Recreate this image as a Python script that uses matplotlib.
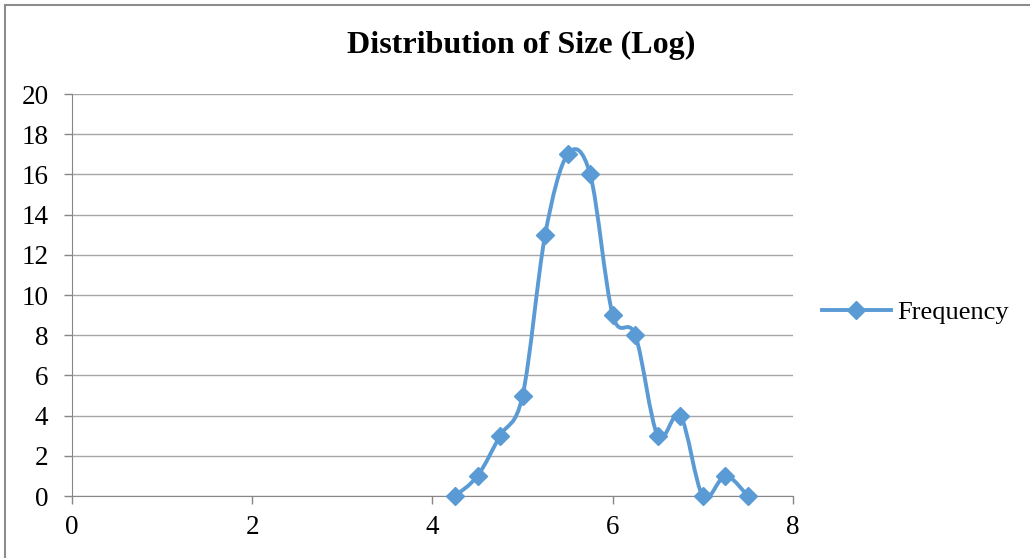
import matplotlib.pyplot as plt
import numpy as np
from matplotlib.path import Path
from matplotlib.patches import PathPatch, Rectangle
from matplotlib.lines import Line2D

plt.rcParams['font.family'] = ['Liberation Serif', 'DejaVu Serif']

size_log = [4.25, 4.5, 4.75, 5.0, 5.25, 5.5, 5.75, 6.0, 6.25, 6.5, 6.75, 7.0, 7.25, 7.5]
frequency = [0, 1, 3, 5, 13, 17, 16, 9, 8, 3, 4, 0, 1, 0]
xticks = [0, 2, 4, 6, 8]
yticks = list(range(0, 21, 2))

blue = '#5B9BD5'

fig = plt.figure(figsize=(10.3, 5.58), dpi=100)
# chart area border (right/bottom edges fall outside the image)
fig.patches.append(Rectangle((5 / 1030, -0.05), 1.1, (558 - 4.5) / 558 + 0.05,
                             transform=fig.transFigure, fill=False,
                             edgecolor='#8c8c8c', linewidth=1.5))
ax = fig.add_axes([0.0699, 0.1111, 0.700, 0.7204])

# smoothed line (Excel-like bezier through the points)
pts = np.column_stack([size_log, frequency])
verts = [pts[0]]
codes = [Path.MOVETO]
n = len(pts)
for i in range(n - 1):
    p0 = pts[i - 1] if i > 0 else pts[i]
    p1 = pts[i]
    p2 = pts[i + 1]
    p3 = pts[i + 2] if i + 2 < n else pts[i + 1]
    c1 = p1 + (p2 - p0) / 6
    c2 = p2 - (p3 - p1) / 6
    verts += [c1, c2, p2]
    codes += [Path.CURVE4] * 3
ax.add_patch(PathPatch(Path(verts, codes), fill=False, edgecolor=blue, linewidth=2.8,
                       zorder=3, capstyle='round', joinstyle='round'))
ax.plot(size_log, frequency, linestyle='none', marker='D', markersize=9,
        color=blue, zorder=4, clip_on=False)

ax.set_xlim(0, 8)
ax.set_ylim(0, 20)
ax.set_xticks(xticks)
ax.set_yticks(yticks)
ax.tick_params(labelsize=19.5, length=6, width=1, color='#868686')
ax.tick_params(axis='y', pad=11)
ax.tick_params(axis='x', pad=8)
ax.grid(axis='y', color='#a6a6a6', linewidth=1)
ax.set_axisbelow(True)
for s in ['top', 'right']:
    ax.spines[s].set_visible(False)
for s in ['left', 'bottom']:
    ax.spines[s].set_color('#868686')

fig.text(0.506, 0.919, 'Distribution of Size (Log)', fontsize=23, fontweight='bold',
         ha='center', va='center')

handle = Line2D([], [], color=blue, linewidth=2.8, marker='D', markersize=9)
fig.legend([handle], ['Frequency'], loc='center left', bbox_to_anchor=(0.775, 0.44),
           frameon=False, fontsize=19, handlelength=2.6, handletextpad=0.25)

fig.savefig('out.png', dpi=100)
